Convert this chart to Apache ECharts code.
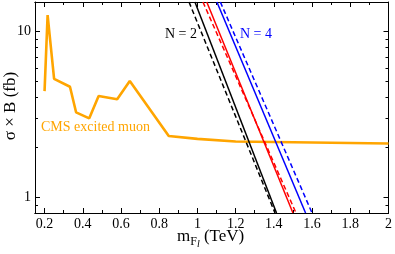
<!DOCTYPE html>
<html><head><meta charset="utf-8">
<script src="https://cdn.jsdelivr.net/npm/echarts@6/dist/echarts.min.js"></script>
<style>html,body{margin:0;padding:0;background:#fff}#c{width:395px;height:254px}</style>
</head><body><div id="c"></div>
<script>
// CMS excited muon limit
const cmsX = [0.2, 0.216, 0.25, 0.333, 0.365, 0.434, 0.483, 0.58, 0.646, 0.85, 1.0, 1.2, 2.0];
const cmsY = [4.35, 12.5, 5.15, 4.62, 3.24, 2.98, 4.06, 3.88, 5.0, 2.33, 2.24, 2.16, 2.10];
// N = 2 (black)
const n2SolidX = [0.987, 1.414];  const n2SolidY = [15, 0.8];
const n2DashX  = [0.956, 1.406];  const n2DashY  = [15, 0.8];
// N = 3 (red)
const n3SolidX = [1.049, 1.500];  const n3SolidY = [15, 0.8];
const n3DashX  = [1.029, 1.516];  const n3DashY  = [15, 0.8];
// N = 4 (blue)
const n4SolidX = [1.102, 1.566];  const n4SolidY = [15, 0.8];
const n4DashX  = [1.120, 1.600];  const n4DashY  = [15, 0.8];
// ticks
const xMajorTicks = [0.2, 0.4, 0.6, 0.8, 1, 1.2, 1.4, 1.6, 1.8, 2];
const xMinorTicks = [0.3, 0.5, 0.7, 0.9, 1.1, 1.3, 1.5, 1.7, 1.9];
const yMajorTicks = [1, 10];
const yMinorTicks = [0.9, 2, 3, 4, 5, 6, 7, 8, 9];

const FONT = 'Liberation Serif';
const pair = (xs, ys) => xs.map((x, i) => [x, ys[i]]);

function xAx(pos, vals, len, labels) {
  return {
    type: 'value', min: 0.15, max: 2, position: pos,
    axisLine: {show: true, onZero: false, lineStyle: {color: '#000', width: 1}},
    axisTick: {show: true, inside: true, length: len, customValues: vals, lineStyle: {color: '#000', width: 1}},
    axisLabel: {show: labels, customValues: vals, margin: 4, color: '#000', fontFamily: FONT, fontSize: 14},
    splitLine: {show: false}
  };
}
function yAx(pos, vals, len, labels) {
  return {
    type: 'log', logBase: 10, min: 0.8, max: 15, position: pos,
    axisLine: {show: true, onZero: false, lineStyle: {color: '#000', width: 1}},
    axisTick: {show: true, inside: true, length: len, customValues: vals, lineStyle: {color: '#000', width: 1}},
    axisLabel: {show: labels, customValues: vals, margin: 4, color: '#000', fontFamily: FONT, fontSize: 14},
    splitLine: {show: false}
  };
}
function ln(xs, ys, color, dashed, w) {
  return {
    type: 'line', xAxisIndex: 0, yAxisIndex: 0, data: pair(xs, ys), symbol: 'none', silent: true,
    lineStyle: {color: color, width: w, type: dashed ? [5, 3] : 'solid'}, animation: false, clip: true
  };
}

const chart = echarts.init(document.getElementById('c'), null, {renderer: 'canvas'});
chart.setOption({
  animation: false,
  backgroundColor: '#fff',
  grid: {left: 35, right: 5, top: 2, bottom: 41, containLabel: false},
  xAxis: [
    xAx('bottom', xMajorTicks, 5, true),
    xAx('bottom', xMinorTicks, 3, false),
    xAx('top', xMajorTicks, 5, false),
    xAx('top', xMinorTicks, 3, false)
  ],
  yAxis: [
    yAx('left', yMajorTicks, 5, true),
    yAx('right', yMajorTicks, 5, false)
  ],
  series: [
    {
      type: 'custom', xAxisIndex: 0, yAxisIndex: 0, silent: true, clip: false,
      data: yMinorTicks.map(v => [2, v]),
      renderItem: function (params, api) {
        const v = api.value(1);
        const l = api.coord([0.15, v]);
        const r = api.coord([2, v]);
        const st = {stroke: '#000', lineWidth: 1};
        return {type: 'group', children: [
          {type: 'line', shape: {x1: l[0], y1: Math.round(l[1]) + 0.5, x2: l[0] + 3, y2: Math.round(l[1]) + 0.5}, style: st},
          {type: 'line', shape: {x1: r[0], y1: Math.round(r[1]) + 0.5, x2: r[0] - 3, y2: Math.round(r[1]) + 0.5}, style: st}
        ]};
      }
    },
    ln(cmsX, cmsY, '#FFA500', false, 2.6),
    ln(n2DashX, n2DashY, '#000', true, 1.5),
    ln(n2SolidX, n2SolidY, '#000', false, 1.5),
    ln(n3DashX, n3DashY, '#FF0000', true, 1.5),
    ln(n3SolidX, n3SolidY, '#FF0000', false, 1.5),
    ln(n4SolidX, n4SolidY, '#0000FF', false, 1.5),
    ln(n4DashX, n4DashY, '#0000FF', true, 1.5)
  ],
  graphic: [
    {type: 'text', left: 165, top: 27, style: {text: 'N = 2', fill: '#000', font: '14px "Liberation Serif"'}},
    {type: 'text', left: 240, top: 27, style: {text: 'N = 4', fill: '#0000FF', font: '14px "Liberation Serif"'}},
    {type: 'text', left: 41, top: 120, style: {text: 'CMS excited muon', fill: '#FFA500', font: '14px "Liberation Serif"'}},
    {type: 'text', x: 11, y: 106, rotation: Math.PI / 2,
      style: {text: 'σ × B (fb)', fill: '#000', font: '17px "Liberation Serif"', align: 'center', verticalAlign: 'middle'}},
    {type: 'text', x: 177, y: 237,
      style: {
        text: '{m|m}{s|F}{ss|l}{t| (TeV)}', fill: '#000', verticalAlign: 'middle',
        rich: {
          m: {font: '17px "Liberation Serif"', fill: '#000'},
          s: {font: '12px "Liberation Serif"', fill: '#000', padding: [9, 0, 0, 0]},
          ss: {font: 'italic 10px "Liberation Serif"', fill: '#000', padding: [15, 0, 0, 0]},
          t: {font: '17px "Liberation Serif"', fill: '#000'}
        }
      }}
  ]
});
</script>
</body></html>
